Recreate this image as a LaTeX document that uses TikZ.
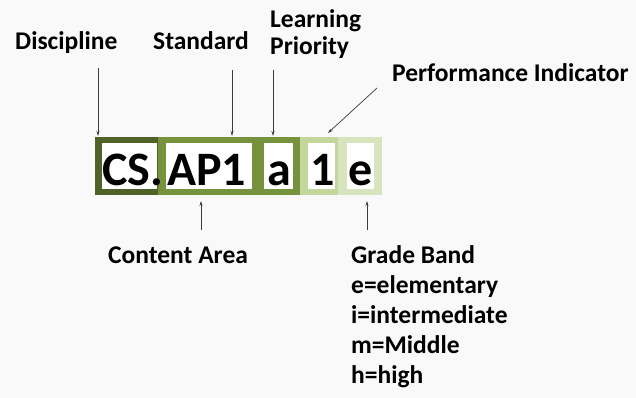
\documentclass[tikz,border=0pt]{standalone}
\usepackage{fontspec}
\setmainfont{Carlito}
\usetikzlibrary{arrows.meta}
\definecolor{bgc}{RGB}{249,249,249}
\definecolor{dkg}{RGB}{79,98,40}
\definecolor{mdg}{RGB}{118,146,60}
\definecolor{ltg}{RGB}{195,214,155}
\definecolor{xlg}{RGB}{215,228,189}
\definecolor{arr}{RGB}{60,60,60}
\tikzset{
  lbl/.style={inner sep=0pt, font=\fontsize{25.5}{27}\selectfont\bfseries, text=black},
  big/.style={inner sep=0pt, font=\fontsize{48}{50}\selectfont\bfseries, text=black},
  seg/.style={draw=none, inner sep=0pt, anchor=north west},
  wbox/.style={fill=white, draw=none, inner sep=0pt, anchor=north west},
  ptr/.style={draw=arr, line width=0.7pt, -{Stealth[length=5pt,width=3pt]}}
}
\begin{document}
\begin{tikzpicture}[x=1pt,y=-1pt]
\useasboundingbox (0,0) rectangle (636,398);
\fill[bgc] (0,0) rectangle (636,398);
% colour bar
\node[seg, fill=dkg, minimum width=63pt, minimum height=58pt] (s1) at (95,137) {};
\node[seg, fill=mdg, minimum width=142pt, minimum height=58pt] (s2) at (158,137) {};
\node[seg, fill=ltg, minimum width=38pt, minimum height=58pt] (s3) at (300,137) {};
\node[seg, fill=xlg, minimum width=44pt, minimum height=58pt] (s4) at (338,137) {};
% white boxes
\node[wbox, minimum width=55pt, minimum height=46pt] (w1) at (102,143) {};
\node[wbox, minimum width=86pt, minimum height=46pt] (w2) at (166,143) {};
\node[wbox, minimum width=29pt, minimum height=46pt] (w3) at (264,143) {};
\node[wbox, minimum width=27pt, minimum height=46pt] (w4) at (308,143) {};
\node[wbox, minimum width=27pt, minimum height=46pt] (w5) at (347,143) {};
% code letters
\node[big, anchor=base west] (tcs) at (102,185) {CS.};
\node[big, anchor=base west] (tap) at (167,185) {AP1};
\node[big, anchor=base west] (ta) at (267,185) {a};
\node[big, anchor=base west] (t1) at (310,185) {1};
\node[big, anchor=base west] (te) at (348,185) {e};
% labels
\node[lbl, anchor=base west] (disc) at (15,50) {Discipline};
\node[lbl, anchor=base west] (std) at (153,50) {Standard};
\node[lbl, anchor=base west, align=left] (lp) at (270,55) {Learning\\Priority};
\node[lbl, anchor=base west] (pi) at (392,82) {Performance Indicator};
\node[lbl, anchor=base west] (ca) at (108,263) {Content Area};
\node[lbl, anchor=base west, align=left, font=\fontsize{25.5}{30}\selectfont\bfseries] (gb) at (351,383)
  {Grade Band\\e=elementary\\i=intermediate\\m=Middle\\h=high};
% arrow ends
\coordinate (d0) at (98,68);   \coordinate (d1) at (98,136);
\coordinate (st0) at (232,70); \coordinate (st1) at (232,136);
\coordinate (l0) at (273,70);  \coordinate (l1) at (273,136);
\coordinate (p0) at (377,88);  \coordinate (p1) at (328,133);
\coordinate (c0) at (201,230); \coordinate (c1) at (201,201);
\coordinate (g0) at (367,230); \coordinate (g1) at (367,201);
\draw[ptr] (d0) -- (d1);
\draw[ptr] (st0) -- (st1);
\draw[ptr] (l0) -- (l1);
\draw[ptr] (p0) -- (p1);
\draw[ptr] (c0) -- (c1);
\draw[ptr] (g0) -- (g1);
\end{tikzpicture}
\end{document}
